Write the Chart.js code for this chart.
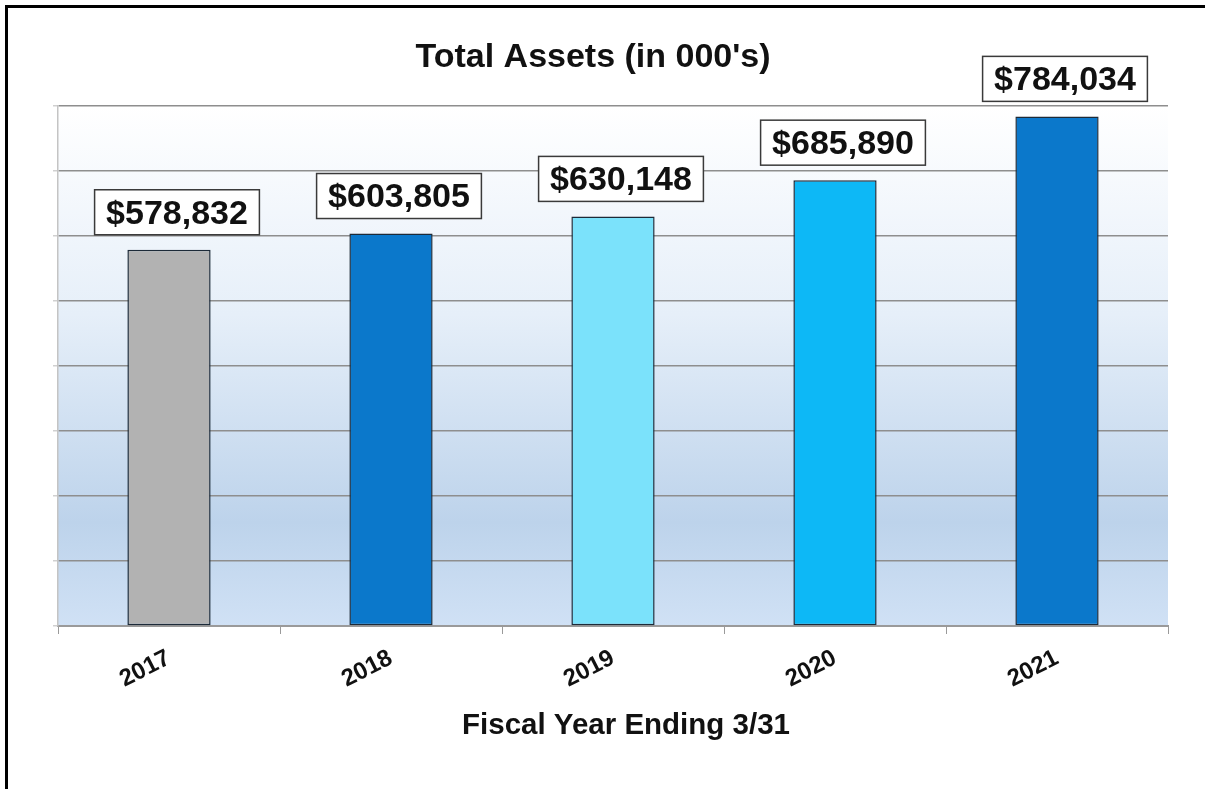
<!DOCTYPE html>
<html>
<head>
<meta charset="utf-8">
<style>
  html, body { margin: 0; padding: 0; background: #ffffff; }
  #wrap { width: 1214px; height: 789px; position: relative; }
</style>
<script src="https://cdn.jsdelivr.net/npm/chart.js@4.4.1/dist/chart.umd.min.js"></script>
</head>
<body>
<div id="wrap"><canvas id="c" width="1214" height="789"></canvas></div>
<script>
// Fiscal years and total assets (in thousands of dollars)
const years = ['2017', '2018', '2019', '2020', '2021'];
const totalAssets = [578832, 603805, 630148, 685890, 784034];
const barColors = ['#b2b2b2', '#0b78cb', '#7be2fb', '#0db8f6', '#0b78cb'];
const chartTitle = "Total Assets (in 000's)";
const xAxisTitle = 'Fiscal Year Ending 3/31';

const FONT = '"Liberation Sans", Arial, Helvetica, sans-serif';

// White page with the heavy black frame on the top and left edges
const framePlugin = {
  id: 'frame',
  beforeDraw(chart) {
    const ctx = chart.ctx;
    ctx.save();
    ctx.fillStyle = '#ffffff';
    ctx.fillRect(0, 0, chart.width, chart.height);
    ctx.strokeStyle = '#000000';
    ctx.lineWidth = 3;
    ctx.beginPath();
    ctx.moveTo(6.5, chart.height);
    ctx.lineTo(6.5, 6.5);
    ctx.lineTo(1205, 6.5);
    ctx.stroke();
    ctx.restore();
  }
};

// Soft blue vertical gradient behind the plot area
const plotBgPlugin = {
  id: 'plotBg',
  beforeDraw(chart) {
    const {ctx, chartArea: a} = chart;
    if (!a) return;
    const g = ctx.createLinearGradient(0, a.top, 0, a.bottom);
    g.addColorStop(0, '#ffffff');
    g.addColorStop(0.4, '#e6eff9');
    g.addColorStop(0.8, '#bdd3eb');
    g.addColorStop(1, '#d0e1f5');
    ctx.save();
    ctx.fillStyle = g;
    ctx.fillRect(a.left, a.top, a.right - a.left, a.bottom - a.top);
    ctx.restore();
  }
};

// Boxed dollar value above each bar
const valueBoxPlugin = {
  id: 'valueBoxes',
  afterDatasetsDraw(chart) {
    const ctx = chart.ctx;
    const meta = chart.getDatasetMeta(0);
    ctx.save();
    ctx.font = 'bold 34px ' + FONT;
    ctx.textAlign = 'center';
    ctx.textBaseline = 'middle';
    meta.data.forEach((bar, i) => {
      const txt = '$' + totalAssets[i].toLocaleString('en-US');
      const w = ctx.measureText(txt).width + 23;
      const h = 45;
      const cx = bar.x + 8;
      const bottom = bar.y - 15;
      const x = cx - w / 2;
      const y = bottom - h;
      ctx.fillStyle = '#ffffff';
      ctx.fillRect(x, y, w, h);
      ctx.strokeStyle = '#3a3a3a';
      ctx.lineWidth = 1.5;
      ctx.strokeRect(x, y, w, h);
      ctx.fillStyle = '#111111';
      ctx.fillText(txt, cx, y + h / 2 + 2);
    });
    ctx.restore();
  }
};

// Chart heading and the axis caption under the year labels
const captionsPlugin = {
  id: 'captions',
  afterDraw(chart) {
    const ctx = chart.ctx;
    const a = chart.chartArea;
    const mid = (a.left + a.right) / 2;
    ctx.save();
    ctx.fillStyle = '#111111';
    ctx.textAlign = 'center';
    ctx.textBaseline = 'alphabetic';
    ctx.font = 'bold 34px ' + FONT;
    ctx.fillText(chartTitle, mid - 20, a.top - 39);
    ctx.font = 'bold 29.5px ' + FONT;
    ctx.fillText(xAxisTitle, mid + 13, a.bottom + 108);
    ctx.restore();
  }
};

new Chart(document.getElementById('c'), {
  type: 'bar',
  data: {
    labels: years,
    datasets: [{
      data: totalAssets,
      backgroundColor: barColors,
      borderColor: '#1c2a38',
      borderWidth: 1.5,
      borderSkipped: false,
      categoryPercentage: 1,
      barPercentage: 0.375
    }]
  },
  options: {
    responsive: false,
    animation: false,
    devicePixelRatio: 1,
    layout: { padding: { top: 106, right: 46, bottom: 48, left: 0 } },
    plugins: {
      legend: { display: false },
      tooltip: { enabled: false },
      title: { display: false }
    },
    scales: {
      x: {
        offset: true,
        border: { display: true, color: '#9a9a9a', width: 2 },
        grid: {
          offset: true,
          drawOnChartArea: false,
          drawTicks: true,
          tickLength: 8,
          color: '#9a9a9a',
          lineWidth: 1
        },
        ticks: {
          color: '#111111',
          font: { family: FONT, size: 24, weight: 'bold' },
          minRotation: 27,
          maxRotation: 27,
          padding: 10
        },
        afterFit(scale) { scale.height = 115; }
      },
      y: {
        min: 0,
        max: 800000,
        border: { display: true, color: '#c4c4c4', width: 1.5 },
        grid: {
          color: '#8e8e8e',
          lineWidth: 1.5,
          drawTicks: true,
          tickLength: 5,
          tickColor: '#d0d0d0'
        },
        ticks: { display: false, stepSize: 100000 },
        afterFit(scale) { scale.width = 58; }
      }
    }
  },
  plugins: [framePlugin, plotBgPlugin, valueBoxPlugin, captionsPlugin]
});
</script>
</body>
</html>
